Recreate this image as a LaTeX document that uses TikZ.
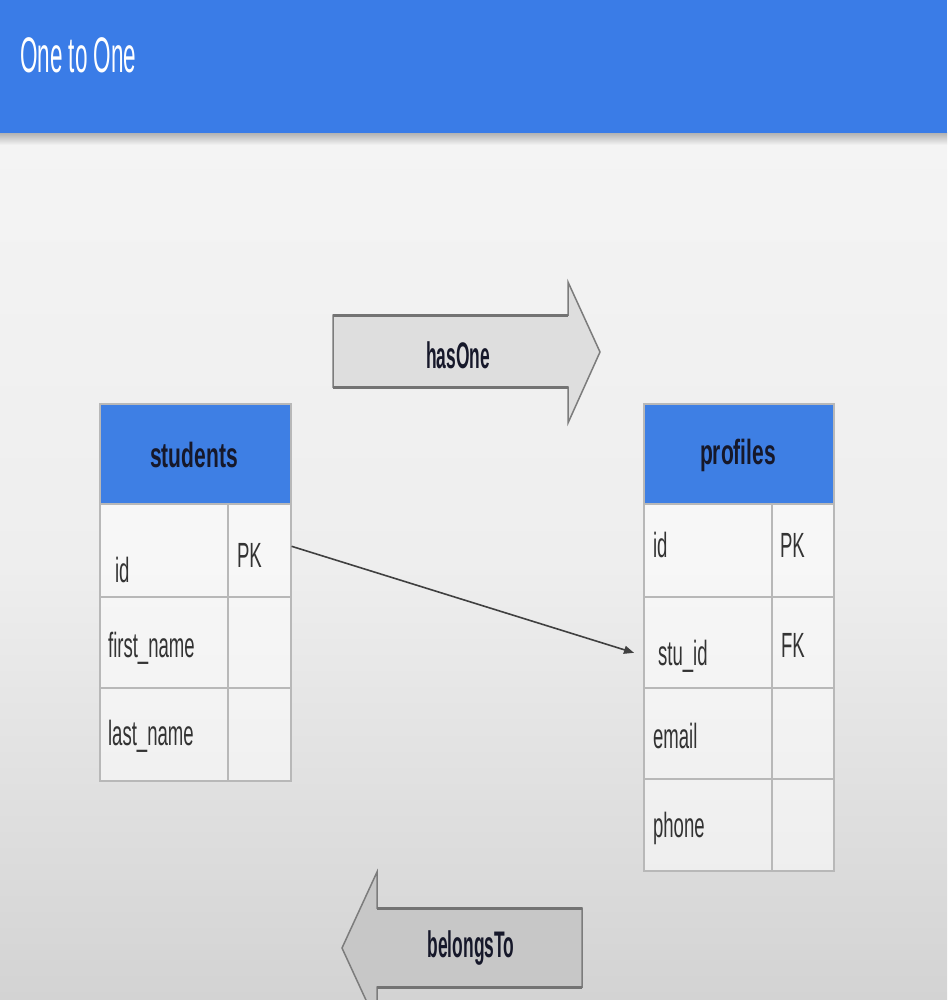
\documentclass[tikz,border=0pt]{standalone}
\usepackage{fontspec}
\setmainfont{Liberation Sans}
\usetikzlibrary{arrows.meta}
\definecolor{barblue}{HTML}{3A7CE7}
\definecolor{headblue}{HTML}{3E7FE4}
\definecolor{cellline}{HTML}{B8B8B8}
\definecolor{bgtop}{HTML}{F4F4F4}
\definecolor{bgmid}{HTML}{EEEEEE}
\definecolor{bgbot}{HTML}{D3D3D3}
\definecolor{txt}{HTML}{333333}
\definecolor{headtxt}{HTML}{16182A}
\definecolor{arrline}{HTML}{7C7C7C}
\begin{document}
\begin{tikzpicture}[x=1pt,y=-1pt,
  cell/.style={draw=cellline,line width=1.6pt,fill=white,fill opacity=0.55,inner sep=0pt,anchor=north west,minimum height=#1},
  namecol/.style={cell=#1,minimum width=128pt},
  keycol/.style={cell=#1,minimum width=62pt},
  headcell/.style={draw=cellline,line width=1.6pt,fill=headblue,inner sep=0pt,anchor=north west,minimum width=191pt,minimum height=100pt},
  headlabel/.style={text=headtxt,font=\bfseries\fontsize{35}{40}\selectfont,xscale=0.6,inner sep=0pt},
  field/.style={text=txt,font=\fontsize{35}{40}\selectfont,xscale=0.53,inner sep=0pt,anchor=base west},
  bigarrow/.style={draw=arrline,line width=1.5pt,line join=miter},
  arrlabel/.style={text=headtxt,font=\bfseries\fontsize{37}{40}\selectfont,xscale=0.47,inner sep=0pt},
  conn/.style={draw=black!75,line width=1.6pt,-{Triangle[length=10pt,width=8pt]}}
]
\useasboundingbox (0,0) rectangle (947,1000);
\clip (0,0) rectangle (947,1000);
% background
\shade[top color=bgtop,bottom color=bgbot,middle color=bgmid] (0,133) rectangle (947,1000);
\shade[top color=black!30,bottom color=bgtop] (0,133) rectangle (947,145);
\fill[barblue] (0,0) rectangle (947,133);
\node[text=white,font=\fontsize{50}{56}\selectfont,xscale=0.45,inner sep=0pt,anchor=base west] (title) at (20,73) {One to One};

% hasOne arrow
\path[bigarrow,fill=black!13] (333,315) -- (568,315) -- (568,282) -- (600,352) -- (568,423) -- (568,387) -- (333,387) -- cycle;
\draw[black!55,line width=3pt] (333,315) -- (568,315) (333,387) -- (568,387);
\node[arrlabel] (hasone) at (458,355) {hasOne};

% belongsTo arrow
\path[bigarrow,fill=black!22] (582,908) -- (377,908) -- (377,872) -- (342,948) -- (377,1024) -- (377,987) -- (582,987) -- cycle;
\draw[black!55,line width=3pt] (582,908) -- (377,908) (582,987) -- (377,987);
\node[arrlabel] (belongs) at (471,948) {belongsTo};

% students table
\node[headcell] (sH) at (99,403) {};
\node[headlabel] (sHl) at (194,455) {students};
\node[namecol=93pt] (sId) at (99,503) {};
\node[keycol=93pt,minimum width=63pt] (sIdK) at (227,503) {};
\node[namecol=91pt] (sFn) at (99,596) {};
\node[keycol=91pt,minimum width=63pt] (sFnK) at (227,596) {};
\node[namecol=93pt] (sLn) at (99,687) {};
\node[keycol=93pt,minimum width=63pt] (sLnK) at (227,687) {};
\node[field] (tsid) at (115,582) {id};
\node[field] (tspk) at (237,567) {PK};
\node[field] (tsfn) at (108,657) {first\_name};
\node[field] (tsln) at (108,745) {last\_name};

% profiles table
\node[headcell,minimum width=190pt] (pH) at (643,403) {};
\node[headlabel] (pHl) at (738,455) {profiles};
\node[namecol=93pt] (pId) at (643,503) {};
\node[keycol=93pt] (pIdK) at (771,503) {};
\node[namecol=91pt] (pStu) at (643,596) {};
\node[keycol=91pt] (pStuK) at (771,596) {};
\node[namecol=91pt] (pEm) at (643,687) {};
\node[keycol=91pt] (pEmK) at (771,687) {};
\node[namecol=92pt] (pPh) at (643,778) {};
\node[keycol=92pt] (pPhK) at (771,778) {};
\node[field] (tpid) at (653,557) {id};
\node[field] (tppk) at (780,557) {PK};
\node[field] (tpstu) at (658,665) {stu\_id};
\node[field] (tpfk) at (781,657) {FK};
\node[field] (tpem) at (653,748) {email};
\node[field] (tpph) at (653,837) {phone};

% connector
\draw[conn] ([yshift=4pt]sIdK.east) -- ([xshift=-9pt,yshift=-10.5pt]pStu.west);
\end{tikzpicture}
\end{document}
